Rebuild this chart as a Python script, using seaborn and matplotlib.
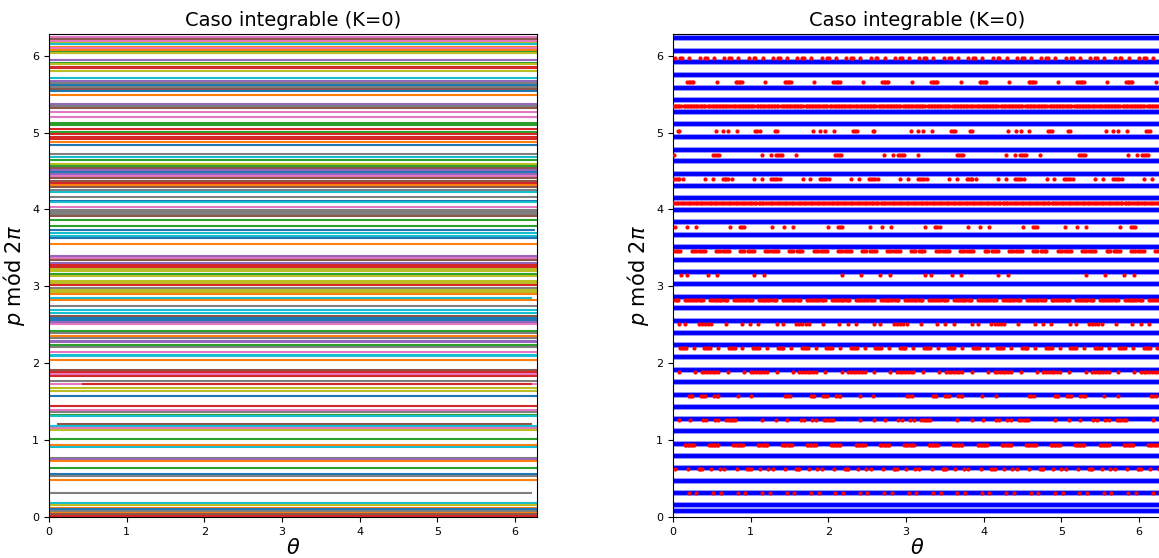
import numpy as np
import pandas as pd
import matplotlib
matplotlib.use("Agg")
import matplotlib.pyplot as plt
import seaborn as sns

TWO_PI = 2 * np.pi

# ---------------- left panel: orbit lines (p value, colour, theta extent) ----------------
C = {"b": "#1f77b4", "o": "#ff7f0e", "g": "#2ca02c", "r": "#d62728", "pu": "#9467bd",
     "br": "#8c564b", "pk": "#e377c2", "gy": "#7f7f7f", "ol": "#bcbd22", "cy": "#17becf"}

left_p = [6.277, 6.247, 6.221, 6.195, 6.169, 6.147, 6.117, 6.095, 6.074, 6.048, 6.03,
          5.944, 5.909, 5.887, 5.857, 5.835, 5.801, 5.706, 5.671, 5.649, 5.619, 5.597,
          5.571, 5.545, 5.489, 5.372, 5.346, 5.316, 5.273, 5.208, 5.13, 5.1, 5.048,
          5.013, 4.978, 4.948, 4.913, 4.874, 4.84, 4.723, 4.688, 4.645, 4.593, 4.571,
          4.545, 4.515, 4.489, 4.463, 4.437, 4.407, 4.377, 4.351, 4.32, 4.29, 4.255,
          4.225, 4.169, 4.113, 4.095, 4.03, 3.996, 3.965, 3.935, 3.909, 3.866, 3.779,
          3.727, 3.693, 3.658, 3.623, 3.55, 3.39, 3.368, 3.338, 3.303, 3.281, 3.251,
          3.225, 3.195, 3.165, 3.13, 3.065, 3.043, 3.013, 2.978, 2.948, 2.922, 2.896,
          2.848, 2.827, 2.74, 2.688, 2.654, 2.61, 2.584, 2.558, 2.532, 2.511, 2.416,
          2.394, 2.351, 2.329, 2.294, 2.273, 2.234, 2.212, 2.143, 2.113, 2.091, 2.048,
          1.918, 1.883, 1.861, 1.831, 1.766, 1.736, 1.732, 1.68, 1.636, 1.571, 1.442,
          1.39, 1.364, 1.333, 1.312, 1.216, 1.182, 1.152, 1.13, 1.009, 0.935, 0.909,
          0.771, 0.749, 0.723, 0.641, 0.554, 0.532, 0.476, 0.316, 0.177, 0.156, 0.121,
          0.1, 0.078, 0.056, 0.035, 0.013]
left_col = ["pk", "pk", "br", "pk", "ol", "cy", "o", "pk", "o", "g", "ol",
            "pu", "g", "ol", "r", "r", "ol", "cy", "pu", "gy", "b", "gy",
            "br", "b", "o", "pu", "gy", "br", "pk", "pk", "g", "g", "r",
            "g", "r", "r", "r", "o", "b", "gy", "cy", "g", "ol", "g",
            "br", "pu", "b", "pu", "pk", "br", "br", "r", "o", "br", "gy",
            "cy", "gy", "b", "cy", "pk", "gy", "gy", "gy", "br", "g", "g",
            "b", "cy", "cy", "b", "o", "pu", "pk", "br", "pu", "r", "r",
            "ol", "ol", "g", "ol", "ol", "ol", "r", "gy", "ol", "ol", "o",
            "cy", "o", "gy", "cy", "cy", "br", "b", "b", "pu", "pk", "g",
            "gy", "o", "gy", "pu", "pu", "g", "gy", "pk", "cy", "cy", "o",
            "br", "r", "pk", "r", "gy", "pk", "r", "ol", "ol", "b", "r",
            "pk", "gy", "g", "cy", "br", "cy", "pk", "ol", "g", "o", "cy",
            "gy", "pu", "o", "g", "b", "gy", "o", "gy", "cy", "ol", "o",
            "b", "gy", "o", "br", "r"]
# lines that do not span the full theta range: index -> (theta_min, theta_max)
left_partial = {66: (0.02, 6.24), 88: (0.0, 6.21), 116: (0.44, 6.2), 120: (0.02, TWO_PI),
                125: (0.115, 6.2), 139: (0.0, 6.2)}

# ---------------- right panel ----------------
# irrational rotation numbers -> filled (blue) lines
blue_p = [0.082, 0.156, 0.317, 0.473, 0.635, 0.795, 0.951, 1.116, 1.277, 1.433, 1.59,
          1.75, 1.915, 2.076, 2.231, 2.392, 2.556, 2.717, 2.868, 3.03, 3.186, 3.346,
          3.511, 3.672, 3.832, 3.988, 4.149, 4.306, 4.466, 4.626, 4.779, 4.948, 5.113,
          5.264, 5.43, 5.582, 5.746, 5.915, 6.068, 6.233]

# rational rows (red dots): p, number of repeats across 2*pi, and the theta offsets
# read inside one repeat
red_p = [0.314, 0.628, 0.942, 1.257, 1.571, 1.885, 2.199, 2.513, 2.827, 3.142,
         3.456, 3.770, 4.084, 4.398, 4.712, 5.027, 5.341, 5.655, 5.969]
red_rep = [20, 10, 20, 5, 4, 10, 20, 5, 20, 2, 20, 5, 20, 10, 4, 5, 20, 10, 20]
red_motif = [
    [0.206, 0.302],
    [0.03, 0.19, 0.33, 0.35, 0.37, 0.49, 0.60],
    [0.15, 0.17, 0.19, 0.21, 0.23, 0.25, 0.27],
    [0.075, 0.215, 0.385, 0.43, 0.535, 0.585, 0.685, 0.715, 0.745, 0.775, 0.8, 1.147],
    [0.2, 0.225, 0.25, 0.355, 0.385, 0.415, 0.53, 0.56, 0.585, 0.834, 1.01, 1.44, 1.47, 1.5],
    [0.077, 0.284, 0.37, 0.405, 0.44, 0.475, 0.51, 0.545, 0.58],
    [0.09, 0.115, 0.14, 0.165, 0.266],
    [0.078, 0.157, 0.33, 0.37, 0.41, 0.45, 0.495, 0.676, 0.884, 0.993, 1.10],
    [0.03, 0.05, 0.07, 0.16, 0.185, 0.21, 0.235, 0.26, 0.285, 0.305],
    [0.1, 0.175, 0.447, 0.57, 1.04, 1.174, 2.172, 2.42, 2.664, 2.79],
    [0.02, 0.045, 0.07, 0.095, 0.24, 0.265, 0.29],
    [0.022, 0.177, 0.292, 0.733, 0.865, 0.89, 0.92],
    [0.0, 0.02, 0.045, 0.065, 0.09, 0.11, 0.13, 0.16, 0.18, 0.2, 0.22, 0.245, 0.27, 0.29],
    [0.01, 0.035, 0.06, 0.083, 0.126, 0.412, 0.511],
    [0.012, 0.52, 0.545, 0.57, 0.595, 1.148, 1.258, 1.33, 1.355, 1.38, 1.40],
    [0.058, 0.08, 0.548, 0.64, 0.705, 0.818, 1.06, 1.085, 1.115],
    [0.0, 0.02, 0.04, 0.06, 0.08, 0.10, 0.135, 0.155, 0.175, 0.195, 0.215, 0.235, 0.255, 0.275, 0.295],
    [0.18, 0.20, 0.22, 0.24, 0.26, 0.561],
    [0.03, 0.094, 0.117, 0.211],
]

title = "Caso integrable (K=0)"
xlabel = r"$\theta$"
ylabel = r"$p$ mód $2\pi$"
ticks = [0, 1, 2, 3, 4, 5, 6]

# ---------------- build tables ----------------
rows = []
for i, (p, c) in enumerate(zip(left_p, left_col)):
    t0, t1 = left_partial.get(i, (0.0, TWO_PI))
    rows.append((t0, p, i))
    rows.append((t1, p, i))
df_left = pd.DataFrame(rows, columns=["theta", "p", "orbit"])
pal_left = {i: C[c] for i, c in enumerate(left_col)}

rows = []
for i, p in enumerate(blue_p):
    rows.append((0.0, p, i))
    rows.append((TWO_PI, p, i))
df_blue = pd.DataFrame(rows, columns=["theta", "p", "orbit"])

rows = []
for p, n, motif in zip(red_p, red_rep, red_motif):
    step = TWO_PI / n
    for off in motif:
        for j in range(n):
            t = off + j * step
            if t <= TWO_PI:
                rows.append((t, p))
df_red = pd.DataFrame(rows, columns=["theta", "p"])

# ---------------- draw ----------------
fig = plt.figure(figsize=(11.59, 5.58), dpi=100)
axL = fig.add_axes([0.0423, 0.0735, 0.4211, 0.8656])
axR = fig.add_axes([0.5807, 0.0735, 0.4211, 0.8656])

sns.lineplot(data=df_left, x="theta", y="p", hue="orbit", palette=pal_left,
             units="orbit", estimator=None, sort=False, legend=False,
             linewidth=1.5, ax=axL)

sns.lineplot(data=df_blue, x="theta", y="p", units="orbit", estimator=None,
             sort=False, color="#7a7aff", linewidth=4.0, ax=axR)
sns.lineplot(data=df_blue, x="theta", y="p", units="orbit", estimator=None,
             sort=False, color="#0000ff", linewidth=2.8, ax=axR)
sns.scatterplot(data=df_red, x="theta", y="p", color="#ff0000", s=9,
                linewidth=0, ax=axR, zorder=3)

for ax in (axL, axR):
    ax.set_xlim(0, TWO_PI)
    ax.set_ylim(0, TWO_PI)
    ax.set_xticks(ticks)
    ax.set_yticks(ticks)
    ax.tick_params(labelsize=8)
    ax.set_title(title, fontsize=14)
    ax.set_xlabel(xlabel, fontsize=15, labelpad=1)
    ax.set_ylabel(ylabel, fontsize=15, labelpad=4)

fig.savefig("out.png", dpi=100)
